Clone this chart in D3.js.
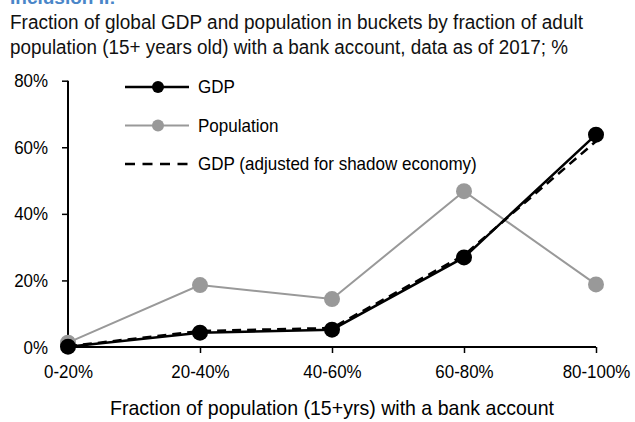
<!DOCTYPE html>
<html>
<head>
<meta charset="utf-8">
<script src="https://cdn.jsdelivr.net/npm/d3@7"></script>
<style>
  body { margin: 0; background: #fff; }
  svg { display: block; }
  text { font-family: "Liberation Sans", Arial, sans-serif; }
</style>
</head>
<body>
<svg id="chart"></svg>
<script>
const categories = ['0-20%', '20-40%', '40-60%', '60-80%', '80-100%']
const gdp = [0.1, 4.3, 5.2, 26.9, 63.8]
const population = [1.3, 18.6, 14.4, 46.8, 18.8]
const gdpShadow = [0.2, 4.8, 5.7, 27.6, 61.8]
const yTicks = [0, 20, 40, 60, 80]

const width = 635
const height = 422
const margin = { left: 68, right: 39, top: 80.7, bottom: 75 }

const svg = d3.select('#chart')
  .attr('width', width)
  .attr('height', height)

// the original font is a bit narrower than Liberation Sans, so squeeze texts
function condense(sel, factor) {
  sel.each(function () {
    let len = this.getComputedTextLength()
    d3.select(this).attr('textLength', len * factor).attr('lengthAdjust', 'spacingAndGlyphs')
  })
}

let x = d3.scalePoint()
  .domain(categories)
  .range([margin.left, width - margin.right])

let y = d3.scaleLinear()
  .domain([0, 80])
  .range([347, margin.top])

// title (first line cut off at the top of the picture)
svg.append('text')
  .attr('x', 10).attr('y', 4)
  .attr('font-size', 19).attr('font-weight', 'bold')
  .attr('fill', '#4a86c8')
  .text('Inclusion II:')

let subtitle = ['Fraction of global GDP and population in buckets by fraction of adult',
  'population (15+ years old) with a bank account, data as of 2017; %']
svg.append('g').selectAll('text')
  .data(subtitle)
  .enter().append('text')
  .attr('x', 10)
  .attr('y', (d, i) => 29 + i * 24.5)
  .attr('font-size', 19.5)
  .attr('fill', '#111')
  .attr('textLength', (d, i) => i ? 558 : 573)
  .attr('lengthAdjust', 'spacingAndGlyphs')
  .text(d => d)

// y axis
let yAxis = svg.append('g')
  .attr('transform', `translate(${margin.left},0)`)
  .call(d3.axisLeft(y).tickValues(yTicks).tickFormat(d => d + '%').tickSize(6).tickPadding(14))
yAxis.select('.domain').attr('stroke', '#000').attr('stroke-width', 2)
  .attr('d', `M0,${y(80)}V${y(0)}`)
yAxis.selectAll('.tick line').attr('stroke', '#000').attr('stroke-width', 1.5)
yAxis.selectAll('.tick text').attr('font-size', 19).attr('fill', '#000')
  .attr('font-family', '"Liberation Sans", Arial, sans-serif')
  .call(condense, 0.89)

// x axis
let xAxis = svg.append('g')
  .attr('transform', `translate(0,${y(0)})`)
  .call(d3.axisBottom(x).tickSize(6).tickPadding(12))
xAxis.select('.domain').attr('stroke', '#000').attr('stroke-width', 2)
  .attr('d', `M${margin.left},0H${width - margin.right}`)
xAxis.selectAll('.tick line').attr('stroke', '#000').attr('stroke-width', 1.5)
xAxis.selectAll('.tick text').attr('font-size', 19).attr('fill', '#000')
  .attr('font-family', '"Liberation Sans", Arial, sans-serif')
  .call(condense, 0.89)

svg.append('text')
  .attr('x', 332)
  .attr('y', 415)
  .attr('text-anchor', 'middle')
  .attr('font-size', 21)
  .attr('fill', '#000')
  .attr('textLength', 444)
  .attr('lengthAdjust', 'spacingAndGlyphs')
  .text('Fraction of population (15+yrs) with a bank account')

let line = d3.line()
  .x((d, i) => x(categories[i]))
  .y(d => y(d))

let series = [
  { name: 'Population', values: population, color: '#999', width: 2, dash: null, marker: true },
  { name: 'GDP (adjusted for shadow economy)', values: gdpShadow, color: '#000', width: 2.5, dash: '9,6', marker: false },
  { name: 'GDP', values: gdp, color: '#000', width: 2.5, dash: null, marker: true }
]

series.forEach(s => {
  svg.append('path')
    .datum(s.values)
    .attr('d', line)
    .attr('fill', 'none')
    .attr('stroke', s.color)
    .attr('stroke-width', s.width)
    .attr('stroke-dasharray', s.dash)
  if (s.marker) {
    svg.append('g').selectAll('circle')
      .data(s.values)
      .enter().append('circle')
      .attr('cx', (d, i) => x(categories[i]))
      .attr('cy', d => y(d))
      .attr('r', 8)
      .attr('fill', s.color)
  }
})

// legend
let legendItems = [series[2], series[0], series[1]]
let legend = svg.append('g').selectAll('g')
  .data(legendItems)
  .enter().append('g')
  .attr('transform', (d, i) => `translate(125,${87 + i * 38.5})`)
legend.append('line')
  .attr('x1', 0).attr('x2', 64)
  .attr('stroke', d => d.color)
  .attr('stroke-width', d => d.width)
  .attr('stroke-dasharray', d => d.dash ? '10,7.5' : null)
legend.filter(d => d.marker).append('circle')
  .attr('cx', 33).attr('r', 6)
  .attr('fill', d => d.color)
legend.append('text')
  .attr('x', 73).attr('dy', '0.35em')
  .attr('font-size', 18.5)
  .attr('fill', '#000')
  .text(d => d.name)
  .call(condense, 0.92)
</script>
</body>
</html>
